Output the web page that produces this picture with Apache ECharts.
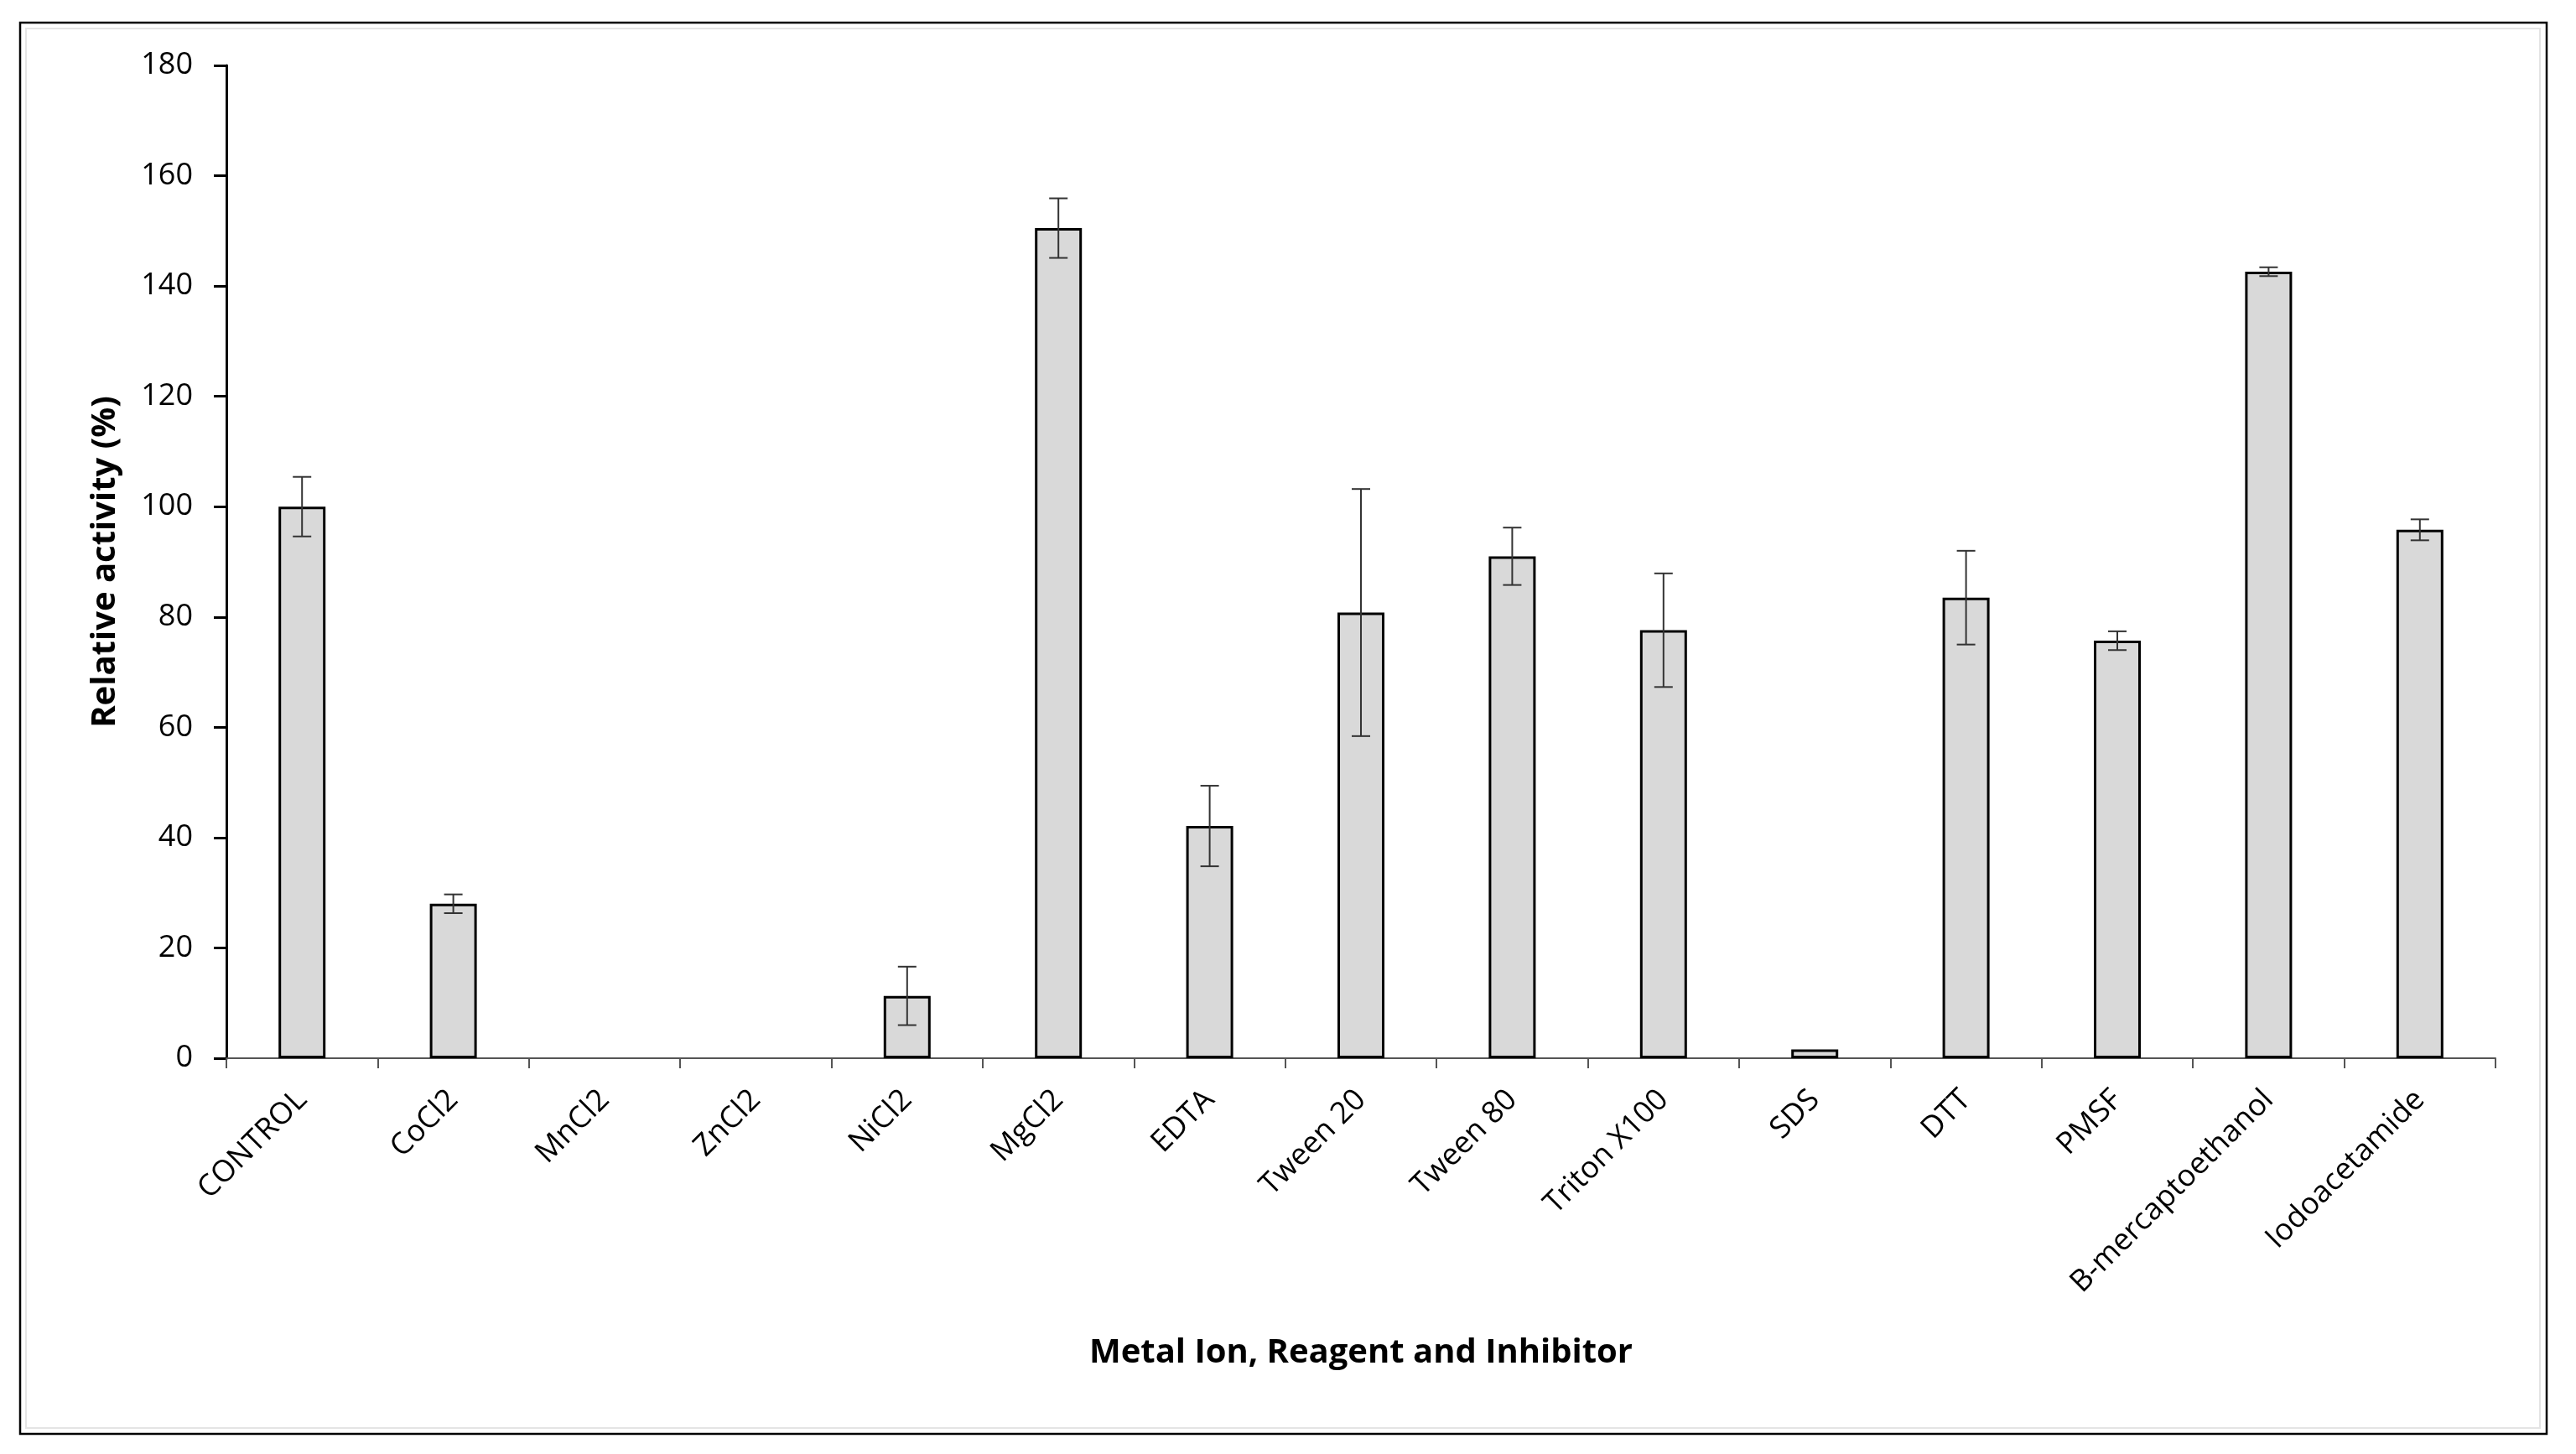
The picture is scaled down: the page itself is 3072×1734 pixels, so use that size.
<!DOCTYPE html>
<html>
<head>
<meta charset="utf-8">
<script src="https://cdn.jsdelivr.net/npm/echarts@6/dist/echarts.min.js"></script>
<style>
html,body{margin:0;padding:0;background:#fff;}
#chart{width:3072px;height:1734px;}
</style>
</head>
<body>
<div id="chart"></div>
<script>
const categories = ['CONTROL','CoCl2','MnCl2','ZnCl2','NiCl2','MgCl2','EDTA','Tween 20','Tween 80','Triton X100','SDS','DTT','PMSF','B-mercaptoethanol','Iodoacetamide'];
const activity = [100, 28, 0, 0, 11.3, 150.5, 42.1, 80.8, 91, 77.6, 1.6, 83.5, 75.7, 142.6, 95.8];
const errors = [5.4, 1.7, 0, 0, 5.3, 5.4, 7.3, 22.4, 5.2, 10.3, 0, 8.5, 1.7, 0.8, 1.9];
const yTicks = [0, 20, 40, 60, 80, 100, 120, 140, 160, 180];

const FONT = '"Open Sans", "Liberation Sans", sans-serif';
const chart = echarts.init(document.getElementById('chart'), null, {renderer: 'canvas'});

const errData = activity.map((v, i) => [i, v, errors[i]]);

chart.setOption({
  backgroundColor: '#ffffff',
  animation: false,
  graphic: [
    {type: 'rect', shape: {x: 24, y: 27, width: 3013, height: 1683}, style: {fill: 'none', stroke: '#000', lineWidth: 2.5}, z: 100},
    {type: 'rect', shape: {x: 31, y: 34, width: 2998, height: 1669}, style: {fill: 'none', stroke: '#e4e4e4', lineWidth: 2}, z: 99}
  ],
  grid: {left: 270, right: 96, top: 78, bottom: 472, containLabel: false},
  xAxis: {
    type: 'category',
    data: categories,
    name: 'Metal Ion, Reagent and Inhibitor',
    nameLocation: 'middle',
    nameGap: 332,
    nameTextStyle: {fontFamily: FONT, fontSize: 40, fontWeight: 'bold', color: '#000'},
    axisLine: {show: true, lineStyle: {color: '#555', width: 2}},
    axisTick: {show: true, alignWithLabel: false, length: 12, lineStyle: {color: '#555', width: 2}},
    axisLabel: {rotate: 45, margin: 44, fontFamily: FONT, fontSize: 36, color: '#000', interval: 0},
    splitLine: {show: false}
  },
  yAxis: {
    type: 'value',
    min: yTicks[0],
    max: yTicks[yTicks.length - 1],
    interval: yTicks[1] - yTicks[0],
    name: 'Relative activity (%)',
    nameLocation: 'middle',
    nameGap: 124,
    nameRotate: 90,
    nameTextStyle: {fontFamily: FONT, fontSize: 40, fontWeight: 'bold', color: '#000'},
    axisLine: {show: true, lineStyle: {color: '#000', width: 3}},
    axisTick: {show: true, inside: false, length: 15, lineStyle: {color: '#000', width: 3}},
    axisLabel: {margin: 40, fontFamily: FONT, fontSize: 36, color: '#000'},
    splitLine: {show: false}
  },
  series: [
    {
      type: 'bar',
      data: activity.map(v => (v === 0 ? null : v)),
      barWidth: 56,
      itemStyle: {color: '#d9d9d9', borderColor: '#000', borderWidth: 3},
      z: 2
    },
    {
      type: 'custom',
      data: errData,
      z: 5,
      renderItem: function (params, api) {
        const i = api.value(0), v = api.value(1), e = api.value(2);
        if (!e) return null;
        const top = api.coord([i, v + e]);
        const bot = api.coord([i, v - e]);
        const cap = 11;
        const st = {stroke: '#333', lineWidth: 2};
        return {
          type: 'group',
          children: [
            {type: 'line', shape: {x1: top[0], y1: top[1], x2: bot[0], y2: bot[1]}, style: st},
            {type: 'line', shape: {x1: top[0] - cap, y1: top[1], x2: top[0] + cap, y2: top[1]}, style: st},
            {type: 'line', shape: {x1: bot[0] - cap, y1: bot[1], x2: bot[0] + cap, y2: bot[1]}, style: st}
          ]
        };
      }
    }
  ]
});
</script>
</body>
</html>
